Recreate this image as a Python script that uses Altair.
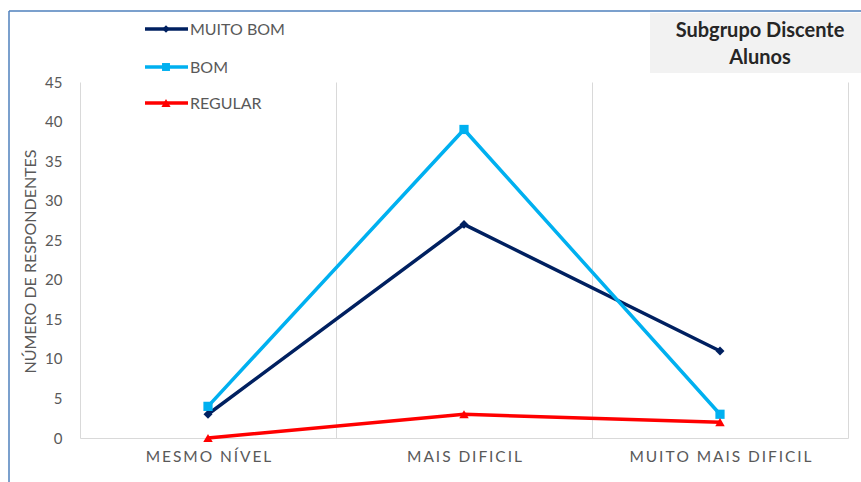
import altair as alt
import pandas as pd

# Data
categories = ["MESMO NÍVEL", "MAIS DIFICIL", "MUITO MAIS DIFICIL"]
series = ["MUITO BOM", "BOM", "REGULAR"]
muito_bom = [3, 27, 11]
bom = [4, 39, 3]
regular = [0, 3, 2]
y_ticks = [0, 5, 10, 15, 20, 25, 30, 35, 40, 45]
title_lines = ["Subgrupo Discente", "Alunos"]

# Styles
colors = ["#002060", "#00B0F0", "#FF0000"]
shapes = ["diamond", "square", "triangle-up"]
sizes = [80, 90, 120]
FONT = "Lato"
GRAY = "#595959"
W, H = 768, 356

rows = []
for name, vals in zip(series, [muito_bom, bom, regular]):
    for cat, v in zip(categories, vals):
        rows.append({"categoria": cat, "serie": name, "valor": v})
df = pd.DataFrame(rows)

x_enc = alt.X(
    "categoria:N",
    sort=categories,
    scale=alt.Scale(paddingInner=0, paddingOuter=0),
    axis=alt.Axis(
        title=None,
        grid=True,
        gridColor="#d9d9d9",
        gridWidth=1,
        tickBand="extent",
        ticks=False,
        domainColor="#d9d9d9",
        domainWidth=1,
        labelAngle=0,
        labelFont=FONT,
        labelFontSize=15.5,
        labelColor=GRAY,
        labelPadding=11,
        labelLimit=400,
        # spread the letters out a little with hair spaces
        labelExpr="join(split(datum.label, ''), '\u200a\u200a')",
    ),
)
y_enc = alt.Y(
    "valor:Q",
    scale=alt.Scale(domain=[0, 45], nice=False),
    axis=alt.Axis(
        values=y_ticks,
        grid=False,
        domain=False,
        ticks=False,
        labelFont=FONT,
        labelFontSize=15,
        labelColor=GRAY,
        labelPadding=18,
        title="NÚMERO DE RESPONDENTES",
        titleFont=FONT,
        titleFontSize=16,
        titleFontWeight="normal",
        titleColor=GRAY,
        titleAngle=-90,
        titleX=-45,
        titleY=H / 2 + 1,
        titleBaseline="alphabetic",
    ),
)
color_enc = alt.Color(
    "serie:N", scale=alt.Scale(domain=series, range=colors), legend=None
)
shape_enc = alt.Shape(
    "serie:N", scale=alt.Scale(domain=series, range=shapes), legend=None
)
size_enc = alt.Size(
    "serie:N", scale=alt.Scale(domain=series, range=sizes), legend=None
)

base = alt.Chart(df)
lines = base.mark_line(strokeWidth=3.5).encode(
    x=x_enc, y=y_enc, color=color_enc, detail="serie:N"
)
points = base.mark_point(filled=True, opacity=1).encode(
    x=x_enc, y=y_enc, color=color_enc, shape=shape_enc, size=size_enc
)

# Legend drawn in the top-left corner
legend_layers = []
legend_y = [-53, -15, 21]
for i, name in enumerate(series):
    ld = pd.DataFrame({"serie": [name]})
    legend_layers.append(
        alt.Chart(ld).mark_rule(strokeWidth=3.5, color=colors[i]).encode(
            x=alt.value(65), x2=alt.value(108), y=alt.value(legend_y[i])
        )
    )
    legend_layers.append(
        alt.Chart(ld).mark_point(
            filled=True, opacity=1, color=colors[i], shape=shapes[i], size=sizes[i] * 0.7
        ).encode(x=alt.value(86), y=alt.value(legend_y[i]))
    )
    legend_layers.append(
        alt.Chart(ld).mark_text(
            align="left", baseline="middle", font=FONT, fontSize=16, color=GRAY
        ).encode(x=alt.value(110), y=alt.value(legend_y[i] + 1), text="serie:N")
    )

# Title box in the top-right corner
title_df = pd.DataFrame({"t": [title_lines]})
title_box = alt.Chart(title_df).mark_rect(color="#f2f2f2").encode(
    x=alt.value(570), x2=alt.value(790), y=alt.value(-69), y2=alt.value(-9)
)
title_text = alt.Chart(title_df).mark_text(
    align="center", baseline="alphabetic", font=FONT, fontSize=20,
    fontWeight="bold", color="#262626", lineHeight=27,
).encode(x=alt.value(680), y=alt.value(-45), text="t")

# Chart frame (left and top edges)
frame_df = pd.DataFrame({"k": [0]})
frame_left = alt.Chart(frame_df).mark_rule(color="#4F81BD", strokeWidth=1.5).encode(
    x=alt.value(-71), y=alt.value(-71), y2=alt.value(410)
)
frame_top = alt.Chart(frame_df).mark_rule(color="#4F81BD", strokeWidth=1.5).encode(
    x=alt.value(-71), x2=alt.value(790), y=alt.value(-71)
)

chart = alt.layer(
    frame_left, frame_top, title_box, title_text, lines, points, *legend_layers
).properties(
    width=W,
    height=H,
    padding={"left": 80, "top": 82, "right": 13, "bottom": 44},
    autosize=alt.AutoSizeParams(type="none"),
    background="white",
).configure_view(stroke=None)

chart.save("out.html", embed_options={"renderer": "svg", "actions": False})
